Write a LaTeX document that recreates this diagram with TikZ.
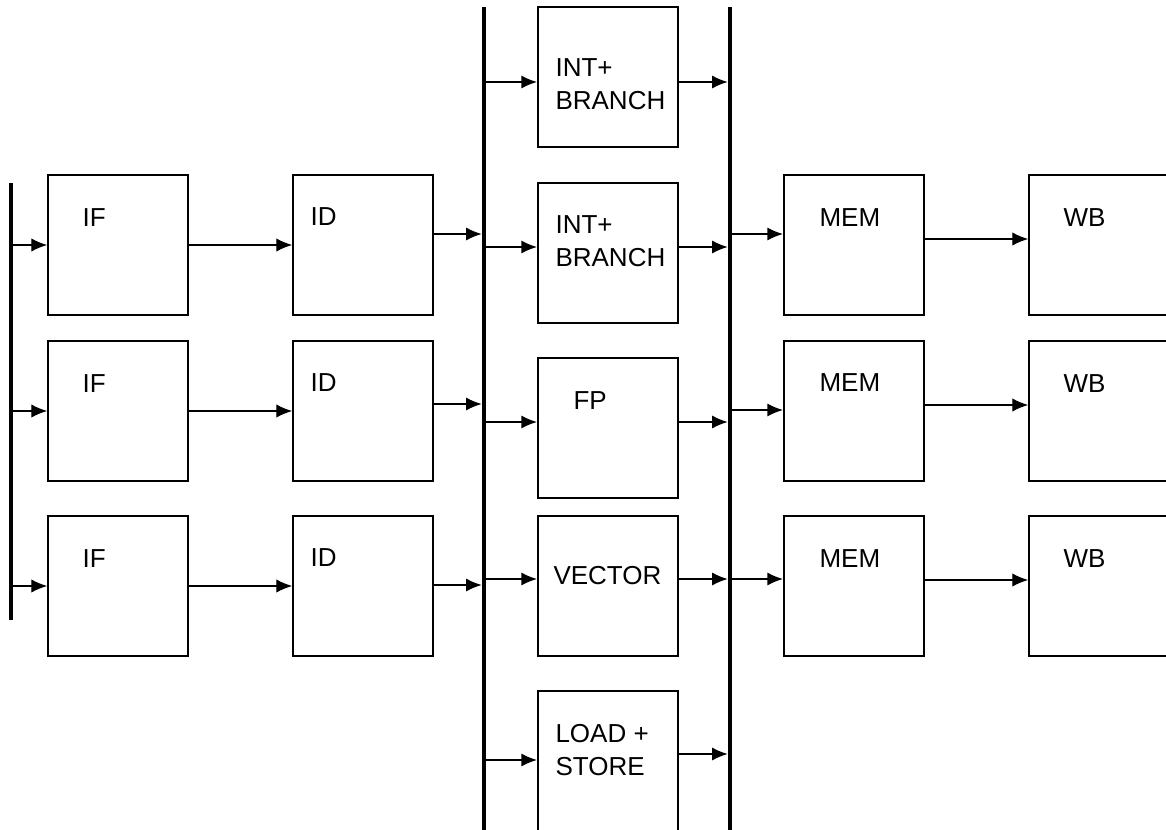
\documentclass[tikz,border=0pt]{standalone}
\usepackage{fontspec}
\setmainfont{Liberation Sans}
\usetikzlibrary{arrows.meta,positioning}

\begin{document}
\begin{tikzpicture}[x=0.75pt, y=-0.75pt, font=\fontsize{19.5}{24.75}\selectfont,
  >={Latex[length=12pt,width=10pt]},
  stage/.style={draw, line width=1.1pt, minimum width=105pt, minimum height=105pt, inner sep=0pt},
  lbl/.style={anchor=base west, inner sep=0pt, align=left},
  bus/.style={fill, inner sep=0pt, minimum width=2.6pt},
  thinarr/.style={line width=0.9pt, ->},
  thickarr/.style={line width=1.6pt, ->}]
\useasboundingbox (0,0) rectangle (1166,830);
\clip (0,0) rectangle (1166,830);
% buses
\node[bus, minimum height=327.75pt] (bus0) at (11,401.5) {};
\node[bus, minimum height=627pt]    (bus1) at (484,425)  {};
\node[bus, minimum height=627pt]    (bus2) at (730,425)  {};
% stages
\node[stage] (if1) at (118,245) {}; \node[stage] (if2) at (118,411) {}; \node[stage] (if3) at (118,586) {};
\node[stage] (id1) at (363,245) {}; \node[stage] (id2) at (363,411) {}; \node[stage] (id3) at (363,586) {};
\node[stage] (mid1) at (608,77) {}; \node[stage] (mid2) at (608,253) {}; \node[stage] (mid3) at (608,428) {};
\node[stage] (mid4) at (608,586) {}; \node[stage] (mid5) at (608,761) {};
\node[stage] (mem1) at (854,245) {}; \node[stage] (mem2) at (854,411) {}; \node[stage] (mem3) at (854,586) {};
\node[stage] (wb1) at (1099,245) {}; \node[stage] (wb2) at (1099,411) {}; \node[stage] (wb3) at (1099,586) {};
% labels (base of the last line)
\node[lbl] at ([shift={(35,52)}]if1.north west) {IF};
\node[lbl] at ([shift={(35,52)}]if2.north west) {IF};
\node[lbl] at ([shift={(35,52)}]if3.north west) {IF};
\node[lbl] at ([shift={(18,51)}]id1.north west) {ID};
\node[lbl] at ([shift={(18,51)}]id2.north west) {ID};
\node[lbl] at ([shift={(18,51)}]id3.north west) {ID};
\node[lbl] at ([shift={(18,103)}]mid1.north west) {INT+\\BRANCH};
\node[lbl] at ([shift={(18,84)}]mid2.north west) {INT+\\BRANCH};
\node[lbl] at ([shift={(36,52)}]mid3.north west) {FP};
\node[lbl] at ([shift={(16,69)}]mid4.north west) {VECTOR};
\node[lbl] at ([shift={(18,85)}]mid5.north west) {LOAD +\\STORE};
\node[lbl] at ([shift={(36,52)}]mem1.north west) {MEM};
\node[lbl] at ([shift={(36,51)}]mem2.north west) {MEM};
\node[lbl] at ([shift={(36,52)}]mem3.north west) {MEM};
\node[lbl] at ([shift={(35,52)}]wb1.north west) {WB};
\node[lbl] at ([shift={(35,52)}]wb2.north west) {WB};
\node[lbl] at ([shift={(35,52)}]wb3.north west) {WB};
% fetch and decode
\draw[thinarr] (bus0 |- if1) -- (if1); \draw[thinarr] (bus0 |- if2) -- (if2); \draw[thinarr] (bus0 |- if3) -- (if3);
\draw[thinarr] (if1) -- (id1); \draw[thinarr] (if2) -- (id2); \draw[thinarr] (if3) -- (id3);
\draw[thickarr] ([shift={(0,-11)}]id1.east) -- ([shift={(0,-11)}]id1.east -| bus1.west);
\draw[thickarr] ([shift={(0,-7)}]id2.east) -- ([shift={(0,-7)}]id2.east -| bus1.west);
\draw[thickarr] ([shift={(0,-1)}]id3.east) -- ([shift={(0,-1)}]id3.east -| bus1.west);
% issue to units
\draw[thickarr] ([shift={(0,5)}]mid1.west -| bus1.east) -- ([shift={(0,5)}]mid1.west);
\draw[thickarr] ([shift={(0,-6)}]mid2.west -| bus1.east) -- ([shift={(0,-6)}]mid2.west);
\draw[thickarr] ([shift={(0,-6)}]mid3.west -| bus1.east) -- ([shift={(0,-6)}]mid3.west);
\draw[thickarr] ([shift={(0,-7)}]mid4.west -| bus1.east) -- ([shift={(0,-7)}]mid4.west);
\draw[thickarr] ([shift={(0,-1)}]mid5.west -| bus1.east) -- ([shift={(0,-1)}]mid5.west);
% units to result bus
\draw[thickarr] ([shift={(0,5)}]mid1.east) -- ([shift={(0,5)}]mid1.east -| bus2.west);
\draw[thickarr] ([shift={(0,-6)}]mid2.east) -- ([shift={(0,-6)}]mid2.east -| bus2.west);
\draw[thickarr] ([shift={(0,-6)}]mid3.east) -- ([shift={(0,-6)}]mid3.east -| bus2.west);
\draw[thickarr] ([shift={(0,-7)}]mid4.east) -- ([shift={(0,-7)}]mid4.east -| bus2.west);
\draw[thickarr] ([shift={(0,-7)}]mid5.east) -- ([shift={(0,-7)}]mid5.east -| bus2.west);
% memory and write back
\draw[thickarr] ([shift={(0,-11)}]mem1.west -| bus2.east) -- ([shift={(0,-11)}]mem1.west);
\draw[thickarr] ([shift={(0,-1)}]mem2.west -| bus2.east) -- ([shift={(0,-1)}]mem2.west);
\draw[thickarr] ([shift={(0,-7)}]mem3.west -| bus2.east) -- ([shift={(0,-7)}]mem3.west);
\draw[thinarr] ([shift={(0,-6)}]mem1.east) -- ([shift={(0,-6)}]mem1.east -| wb1.west);
\draw[thinarr] ([shift={(0,-6)}]mem2.east) -- ([shift={(0,-6)}]mem2.east -| wb2.west);
\draw[thinarr] ([shift={(0,-6)}]mem3.east) -- ([shift={(0,-6)}]mem3.east -| wb3.west);
\end{tikzpicture}
\end{document}
